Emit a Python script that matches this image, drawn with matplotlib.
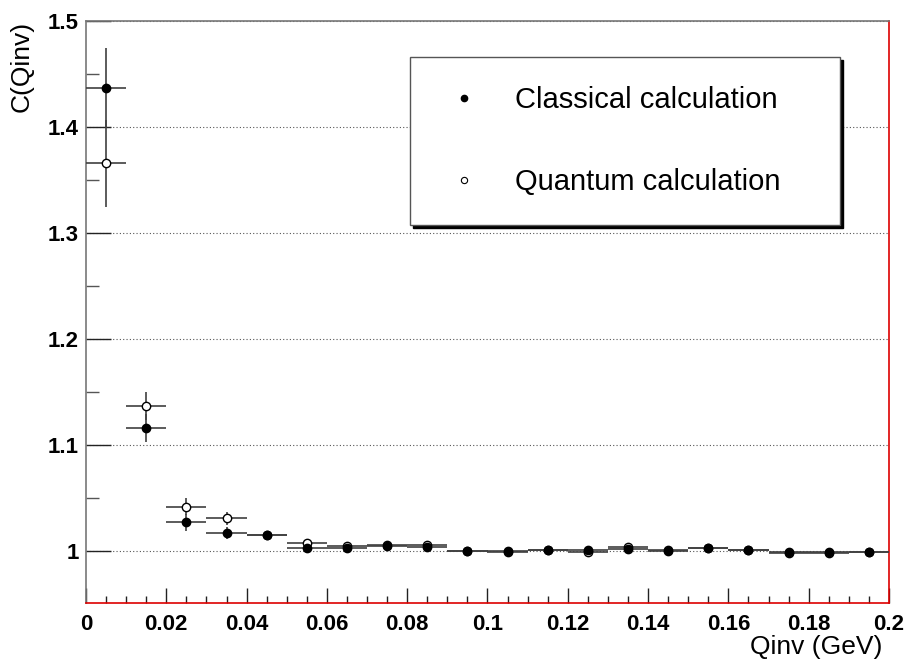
import matplotlib
matplotlib.use("Agg")
import matplotlib.pyplot as plt
from matplotlib.lines import Line2D
from matplotlib.ticker import MultipleLocator, FuncFormatter

# ------------- Data ---------------------------------------
qinv = [0.005, 0.015, 0.025, 0.035, 0.045, 0.055, 0.065, 0.075, 0.085, 0.095,
        0.105, 0.115, 0.125, 0.135, 0.145, 0.155, 0.165, 0.175, 0.185, 0.195]
bin_half_width = 0.005

classical = [1.437, 1.116, 1.027, 1.017, 1.015, 1.003, 1.003, 1.005, 1.004, 1.000,
             1.000, 1.001, 1.001, 1.002, 1.000, 1.003, 1.001, 0.999, 0.999, 0.999]
classical_err = [0.038, 0.013, 0.008, 0.006, 0.004, 0.003, 0.003, 0.003, 0.003, 0.002,
                 0.002, 0.002, 0.002, 0.002, 0.002, 0.002, 0.002, 0.002, 0.002, 0.002]

quantum = [1.366, 1.137, 1.042, 1.031, 1.015, 1.008, 1.005, 1.006, 1.006, 1.000,
           0.999, 1.001, 0.999, 1.004, 1.001, 1.003, 1.001, 0.998, 0.998, 0.999]
quantum_err = [0.041, 0.013, 0.008, 0.006, 0.004, 0.003, 0.003, 0.003, 0.003, 0.002,
               0.002, 0.002, 0.002, 0.002, 0.002, 0.002, 0.002, 0.002, 0.002, 0.002]

labels = ["Classical calculation", "Quantum calculation"]

# ------------- Figure --------------
plt.rcParams['font.family'] = ['Liberation Sans', 'DejaVu Sans']

W, H = 907, 666
fig = plt.figure(figsize=(W / 100, H / 100), dpi=100)
ax = fig.add_axes([86 / W, 1 - 603 / H, 803 / W, 582 / H])

err_col = '#404040'
ax.errorbar(qinv, quantum, xerr=bin_half_width, yerr=quantum_err, fmt='o',
            ms=6, mfc='white', mec='black', mew=1, ecolor=err_col, elinewidth=1.2,
            capsize=0, zorder=3)
ax.errorbar(qinv, classical, xerr=bin_half_width, yerr=classical_err, fmt='o',
            ms=6, mfc='black', mec='black', ecolor=err_col, elinewidth=1.2,
            capsize=0, zorder=4)

ax.set_xlim(0, 0.2)
ax.set_ylim(0.951, 1.5)

# ticks, ROOT-ish (inward, long on y)
ax.xaxis.set_major_locator(MultipleLocator(0.02))
ax.xaxis.set_minor_locator(MultipleLocator(0.005))
ax.yaxis.set_major_locator(MultipleLocator(0.1))
ax.yaxis.set_minor_locator(MultipleLocator(0.05))
fmt = FuncFormatter(lambda v, p: '{:g}'.format(round(v, 4)))
ax.xaxis.set_major_formatter(fmt)
ax.yaxis.set_major_formatter(fmt)
ax.tick_params(axis='y', which='major', direction='in', length=18, width=1,
               color='#222222', pad=5, labelsize=16)
ax.tick_params(axis='y', which='minor', direction='in', length=9.5, width=1,
               color='#555555')
ax.tick_params(axis='x', which='major', direction='in', length=11, width=1,
               color='#222222', pad=8, labelsize=16)
ax.tick_params(axis='x', which='minor', direction='in', length=5, width=1,
               color='#222222')
for lab in ax.get_xticklabels() + ax.get_yticklabels():
    lab.set_fontweight('bold')

ax.yaxis.grid(True, which='major', linestyle=(0, (1, 2)), color='#555555', linewidth=0.8)
ax.set_axisbelow(True)

ax.spines['left'].set_color('#777777')
ax.spines['top'].set_color('#777777')
ax.spines['right'].set_color('#dd0000')
ax.spines['bottom'].set_color('#dd0000')
for s in ax.spines.values():
    s.set_linewidth(1.2)

# axis titles
fig.text(882 / W, 1 - 635 / H, 'Qinv (GeV)', fontsize=19, ha='right', va='top')
fig.text(10 / W, 1 - 21 / H, 'C(Qinv)', fontsize=19, rotation=90, ha='left', va='top')

# legend
handles = [Line2D([], [], ls='none', marker='o', ms=4.5, mfc='black', mec='black'),
           Line2D([], [], ls='none', marker='o', ms=4.5, mfc='white', mec='black', mew=0.8)]
leg_top = 1 - 57 / H
leg = fig.legend(handles, labels, loc='upper left',
                 bbox_to_anchor=(410 / W, leg_top - 0.3, 430 / W, 0.3), mode='expand',
                 borderaxespad=0, fontsize=21, frameon=True, fancybox=False,
                 borderpad=1.0, labelspacing=1.85, handlelength=1.7, handletextpad=0.9,
                 shadow={'color': 'black', 'alpha': 1.0})
leg.get_frame().set_edgecolor('#555555')
leg.get_frame().set_linewidth(1.0)

fig.savefig('out.png', dpi=100)
